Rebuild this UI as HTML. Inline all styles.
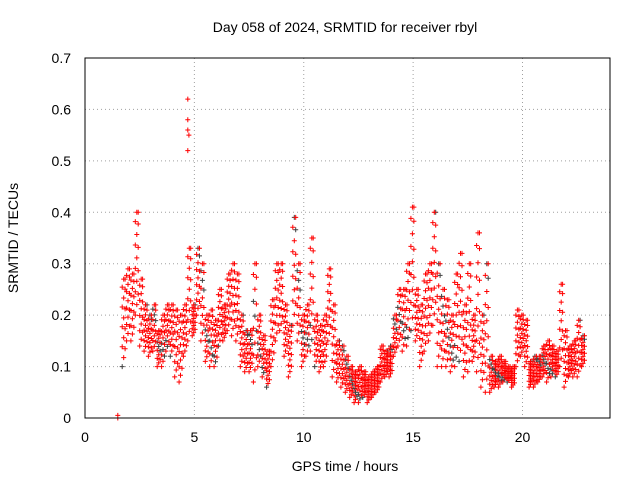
<!DOCTYPE html>
<html><head><meta charset="utf-8"><style>
body{margin:0;background:#fff;}
svg text{font-family:"Liberation Sans",sans-serif;font-size:14px;fill:#000;}
</style></head><body>
<svg id="chart" width="640" height="480">
<text x="345" y="32" text-anchor="middle">Day 058 of 2024, SRMTID for receiver rbyl</text>
<text x="345" y="471" text-anchor="middle">GPS time / hours</text>
<text transform="translate(18,238) rotate(-90)" text-anchor="middle">SRMTID / TECUs</text>
<g id="grid"></g>
<g id="ticks"></g>
<path id="marks2" fill="none" stroke="#404040" stroke-width="1"></path>
<path id="marks" fill="none" stroke="#ff0000" stroke-width="1"></path>
<rect x="85" y="58" width="525" height="360" fill="none" stroke="#000"></rect>
</svg>
<script>
const xTicks=[0,5,10,15,20];
const yTicks=[0,0.1,0.2,0.3,0.4,0.5,0.6,0.7];
const yTickLabels=["0","0.1","0.2","0.3","0.4","0.5","0.6","0.7"];
const times=[1.7,1.9,2.1,2.3,2.5,2.7,2.9,3.1,3.3,3.5,3.7,3.9,4.1,4.3,4.5,4.7,4.9,5.1,5.3,5.5,5.7,5.9,6.1,6.3,6.5,6.7,6.9,7.1,7.3,7.5,7.7,7.9,8.1,8.3,8.5,8.7,8.9,9.1,9.3,9.5,9.7,9.9,10.1,10.3,10.5,10.7,10.9,11.1,11.3,11.5,11.7,11.9,12.1,12.3,12.5,12.7,12.9,13.1,13.3,13.5,13.7,13.9,14.1,14.3,14.5,14.7,14.9,15.1,15.3,15.5,15.7,15.9,16.1,16.3,16.5,16.7,16.9,17.1,17.3,17.5,17.7,17.9,18.1,18.3,18.5,18.7,18.9,19.1,19.3,19.5,19.7,19.9,20.1,20.3,20.5,20.7,20.9,21.1,21.3,21.5,21.7,21.9,22.1,22.3,22.5,22.7];
const lowVals=[0.1,0.15,0.15,0.2,0.14,0.13,0.12,0.13,0.1,0.1,0.13,0.12,0.08,0.07,0.12,0.15,0.16,0.2,0.15,0.11,0.1,0.1,0.14,0.15,0.17,0.16,0.15,0.1,0.09,0.09,0.07,0.1,0.08,0.06,0.1,0.15,0.17,0.12,0.08,0.18,0.15,0.1,0.12,0.13,0.1,0.09,0.1,0.15,0.08,0.07,0.06,0.05,0.04,0.03,0.03,0.04,0.03,0.04,0.05,0.07,0.08,0.08,0.12,0.14,0.13,0.14,0.17,0.15,0.1,0.13,0.15,0.18,0.1,0.1,0.1,0.09,0.1,0.11,0.08,0.09,0.11,0.09,0.06,0.05,0.05,0.06,0.06,0.07,0.07,0.06,0.1,0.12,0.1,0.06,0.06,0.07,0.08,0.07,0.08,0.08,0.1,0.06,0.08,0.08,0.08,0.1];
const highVals=[0.27,0.29,0.28,0.4,0.27,0.22,0.2,0.22,0.17,0.2,0.22,0.22,0.21,0.2,0.22,0.33,0.22,0.33,0.3,0.2,0.21,0.19,0.25,0.22,0.28,0.3,0.28,0.2,0.17,0.17,0.3,0.2,0.16,0.13,0.23,0.3,0.3,0.22,0.18,0.39,0.3,0.2,0.22,0.35,0.2,0.18,0.2,0.29,0.22,0.15,0.14,0.12,0.1,0.09,0.1,0.09,0.08,0.09,0.1,0.14,0.13,0.14,0.2,0.25,0.25,0.3,0.41,0.25,0.22,0.28,0.3,0.4,0.3,0.25,0.23,0.2,0.28,0.32,0.22,0.3,0.2,0.36,0.2,0.3,0.12,0.11,0.12,0.11,0.1,0.1,0.21,0.2,0.19,0.11,0.12,0.12,0.14,0.15,0.14,0.13,0.26,0.17,0.14,0.15,0.19,0.16];
const spikeTimes=[4.7,4.7,4.7,4.7,4.75,1.5,1.5];
const spikeVals=[0.62,0.58,0.56,0.52,0.55,0.0,0.005];
const X=t=>85+t*(525/24);
const Y=v=>418-v*(360/0.7);
const ns="http://www.w3.org/2000/svg";
const grid=document.getElementById('grid'),ticks=document.getElementById('ticks');
xTicks.forEach(t=>{
 const l=document.createElementNS(ns,'line');
 l.setAttribute('x1',X(t));l.setAttribute('x2',X(t));l.setAttribute('y1',58);l.setAttribute('y2',418);
 l.setAttribute('stroke','#a0a0a0');l.setAttribute('stroke-dasharray','1,3');
 
 
 grid.appendChild(l);
 const tx=document.createElementNS(ns,'text');
 tx.setAttribute('x',X(t));tx.setAttribute('y',442);tx.setAttribute('text-anchor','middle');
 tx.textContent=t;
 
 
 ticks.appendChild(tx);
});
yTicks.forEach((v,i)=>{
 const l=document.createElementNS(ns,'line');
 l.setAttribute('x1',85);l.setAttribute('x2',610);l.setAttribute('y1',Y(v));l.setAttribute('y2',Y(v));
 l.setAttribute('stroke','#a0a0a0');l.setAttribute('stroke-dasharray','1,3');
 
 
 grid.appendChild(l);
 const tx=document.createElementNS(ns,'text');
 tx.setAttribute('x',71);tx.setAttribute('y',Y(v)+5);tx.setAttribute('text-anchor','end');
 tx.textContent=yTickLabels[i];
 
 
 ticks.appendChild(tx);
});
let d='',d2='';
const plus=(t,v)=>{const x=X(t),y=Y(v);return `M${(x-2.5).toFixed(1)} ${y.toFixed(1)}h5M${x.toFixed(1)} ${(y-2.5).toFixed(1)}v5`;};
times.forEach((t,i)=>{
 const lo=lowVals[i],hi=highVals[i];
 for(let s=0;s<3;s++){
  for(let k=0;k<5;k++){
   const f=((k+s*0.45)%5)/4.4;
   const v=lo+(hi-lo)*Math.min(f,1);
   if((k+s+i)%11===0) d2+=plus(t+s*0.067,v); else d+=plus(t+s*0.067,v);
  }
 }
});
spikeTimes.forEach((t,i)=>{d+=plus(t,spikeVals[i]);});
document.getElementById('marks').setAttribute('d',d);
document.getElementById('marks2').setAttribute('d',d2);
</script>
</body></html>
